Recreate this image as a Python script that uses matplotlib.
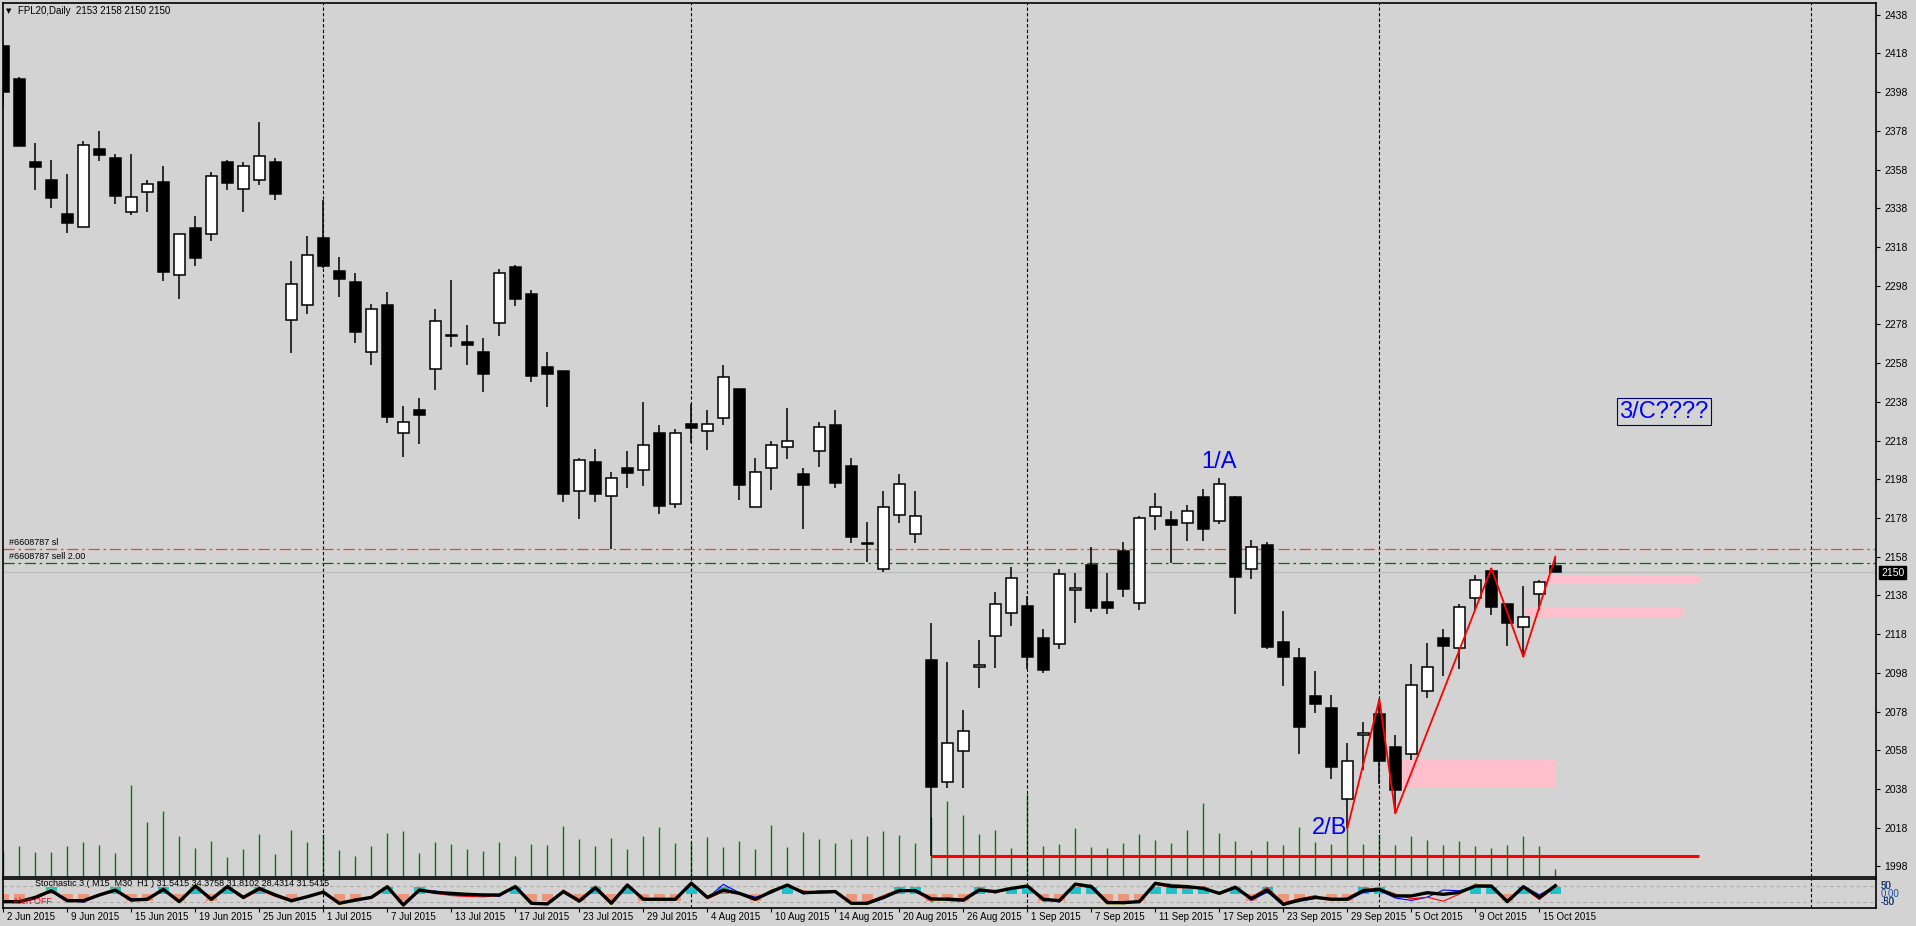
import matplotlib
matplotlib.use("Agg")
import matplotlib.pyplot as plt
from matplotlib.patches import Rectangle

W, H = 1916, 926
BG = '#D3D3D3'

# daily bars, 2 Jun 2015 .. 16 Oct 2015
opens = [2421.8, 2404.8, 2361.9, 2352.6, 2335.0, 2328.5, 2368.6, 2364.0, 2336.2, 2346.6,
         2351.6, 2303.7, 2327.6, 2324.6, 2361.7, 2348.0, 2352.6, 2361.9, 2280.4, 2288.2,
         2322.5, 2305.6, 2299.8, 2263.6, 2287.9, 2221.7, 2233.8, 2254.8, 2272.5, 2268.9,
         2263.7, 2278.6, 2307.7, 2293.7, 2256.0, 2253.9, 2191.8, 2206.9, 2189.5, 2203.8,
         2202.6, 2221.9, 2185.4, 2226.4, 2222.8, 2229.5, 2244.5, 2183.5, 2203.7, 2214.5,
         2200.6, 2212.5, 2225.9, 2204.7, 2164.6, 2151.5, 2179.4, 2169.9, 2104.6, 2041.4,
         2057.5, 2100.9, 2116.9, 2128.7, 2132.4, 2115.8, 2112.7, 2140.6, 2153.6, 2134.4,
         2160.8, 2134.2, 2179.2, 2176.9, 2175.6, 2188.7, 2176.6, 2189.0, 2151.5, 2163.9,
         2113.8, 2105.5, 2085.9, 2079.7, 2032.7, 2065.7, 2076.7, 2059.7, 2056.2, 2088.5,
         2115.8, 2110.7, 2136.5, 2150.6, 2133.4, 2121.5, 2138.6, 2153.0]
highs = [2422.9, 2405.8, 2371.7, 2362.9, 2355.7, 2372.6, 2377.9, 2366.0, 2366.0, 2352.6,
         2359.8, 2324.6, 2334.0, 2356.6, 2362.9, 2362.0, 2382.6, 2364.0, 2310.8, 2323.7,
         2342.3, 2312.7, 2304.4, 2288.4, 2294.7, 2235.8, 2240.0, 2286.0, 2300.9, 2277.7,
         2271.0, 2306.6, 2308.7, 2295.8, 2263.7, 2254.0, 2208.8, 2213.6, 2201.8, 2212.6,
         2237.9, 2226.0, 2224.0, 2236.9, 2233.8, 2257.0, 2244.5, 2209.0, 2217.8, 2234.8,
         2203.8, 2227.6, 2233.8, 2209.0, 2176.0, 2191.8, 2200.9, 2191.9, 2123.8, 2103.6,
         2078.8, 2114.9, 2139.6, 2152.7, 2137.5, 2120.5, 2151.6, 2149.7, 2162.9, 2149.4,
         2165.5, 2178.9, 2191.1, 2181.6, 2184.7, 2192.8, 2198.5, 2189.5, 2166.5, 2165.4,
         2129.8, 2110.7, 2099.1, 2086.4, 2061.6, 2072.5, 2084.3, 2065.9, 2102.6, 2113.3,
         2120.5, 2133.4, 2148.4, 2152.0, 2133.4, 2143.0, 2146.0, 2158.0]
lows = [2390.5, 2370.2, 2347.4, 2338.3, 2325.4, 2328.5, 2362.4, 2340.4, 2334.5, 2336.2,
        2300.6, 2291.3, 2308.3, 2321.2, 2347.4, 2336.2, 2350.2, 2342.4, 2263.4, 2283.4,
        2307.0, 2292.3, 2268.6, 2257.2, 2227.2, 2209.7, 2216.2, 2244.1, 2266.5, 2257.0,
        2243.2, 2272.2, 2287.7, 2248.4, 2235.5, 2186.4, 2177.6, 2186.4, 2161.8, 2193.6,
        2194.7, 2180.2, 2183.3, 2216.6, 2213.3, 2226.2, 2187.3, 2183.5, 2192.6, 2208.6,
        2172.5, 2204.5, 2193.6, 2165.2, 2155.4, 2150.2, 2175.6, 2164.9, 2003.4, 2038.7,
        2038.7, 2090.3, 2100.7, 2122.4, 2099.8, 2097.8, 2110.5, 2123.6, 2129.6, 2128.6,
        2137.3, 2130.6, 2171.6, 2154.6, 2166.1, 2166.3, 2174.7, 2128.6, 2146.6, 2110.5,
        2091.2, 2056.2, 2077.4, 2043.3, 2017.7, 2047.8, 2040.4, 2025.4, 2052.8, 2084.8,
        2096.4, 2099.8, 2130.3, 2127.7, 2111.7, 2106.3, 2130.5, 2150.0]
closes = [2398.2, 2370.2, 2359.5, 2343.5, 2330.5, 2370.5, 2365.5, 2344.5, 2343.8, 2350.5,
          2305.1, 2324.6, 2312.5, 2354.5, 2351.2, 2359.8, 2365.0, 2345.5, 2298.7, 2313.7,
          2308.3, 2301.6, 2274.2, 2285.8, 2230.3, 2227.4, 2231.4, 2279.6, 2272.0, 2267.5,
          2252.5, 2304.4, 2291.3, 2251.5, 2252.5, 2190.5, 2207.8, 2190.5, 2198.5, 2201.4,
          2215.6, 2184.3, 2221.7, 2224.6, 2226.4, 2250.7, 2194.9, 2201.6, 2215.6, 2217.6,
          2195.2, 2224.9, 2196.2, 2168.3, 2164.4, 2183.5, 2195.4, 2178.9, 2039.2, 2061.6,
          2067.8, 2101.9, 2133.4, 2146.8, 2106.3, 2099.6, 2149.2, 2141.7, 2131.6, 2131.6,
          2141.5, 2177.8, 2183.5, 2174.5, 2181.4, 2172.5, 2195.4, 2147.7, 2162.9, 2111.5,
          2106.3, 2070.2, 2081.7, 2049.5, 2052.6, 2066.8, 2052.6, 2037.6, 2091.6, 2100.9,
          2111.7, 2131.9, 2145.8, 2131.9, 2123.6, 2126.7, 2144.8, 2150.0]
volumes = [26, 31, 25, 25, 31, 35, 32, 24, 92, 55, 66, 41, 29, 36, 20, 28, 43, 23, 47, 35,
           43, 27, 21, 31, 44, 46, 24, 35, 33, 28, 26, 35, 21, 33, 32, 51, 38, 31, 39, 28,
           41, 50, 34, 35, 40, 30, 36, 28, 52, 30, 45, 38, 34, 38, 41, 46, 42, 34, 60, 76,
           62, 43, 47, 29, 83, 31, 33, 49, 30, 29, 34, 43, 37, 34, 47, 74, 44, 36, 27, 36,
           32, 50, 35, 33, 49, 33, 43, 32, 41, 37, 32, 36, 31, 29, 32, 41, 31, 8]

date_labels = ['2 Jun 2015', '9 Jun 2015', '15 Jun 2015', '19 Jun 2015', '25 Jun 2015',
               '1 Jul 2015', '7 Jul 2015', '13 Jul 2015', '17 Jul 2015', '23 Jul 2015',
               '29 Jul 2015', '4 Aug 2015', '10 Aug 2015', '14 Aug 2015', '20 Aug 2015',
               '26 Aug 2015', '1 Sep 2015', '7 Sep 2015', '11 Sep 2015', '17 Sep 2015',
               '23 Sep 2015', '29 Sep 2015', '5 Oct 2015', '9 Oct 2015', '15 Oct 2015']
date_bars = list(range(0, 97, 4))
separator_bars = [20, 43, 64, 86, 113]

price_ticks = list(range(1998, 2439, 20))
sl_price, entry_price, bid_price = 2161.8, 2154.6, 2150

support_price = 2003.4
support_bars = [58, 106]
zigzag_bars = [84, 86, 87, 93, 95, 97]
zigzag_prices = [2017.7, 2084.3, 2025.4, 2152.0, 2106.3, 2158.0]
# pink zones: (bar from, bar to, price low, price high)
zones = [(87.4, 97.0, 2038.7, 2053.5),
         (96.2, 106.0, 2143.7, 2148.8),
         (95.1, 105.0, 2127.0, 2132.2)]

# stochastic panel
stoch_black = [-48, -48, -21, 21, -42, -42, -6, 25, -38, -33, 29, -48, 50, -33, 46, -21, 35, -6, -42, -17,
               12, -58, -38, -21, 46, -69, 25, 10, 4, -2, -6, -6, 46, -58, -62, 15, -44, 40, -58, 56,
               -33, -33, -33, 67, -21, 25, 4, -33, 15, 56, 8, 12, 15, -58, -58, -21, 21, 21, -31, -33,
               -38, 25, 15, 35, 50, -33, -42, 62, 46, -54, -54, -48, 67, 50, 46, 35, 4, 42, -29, 25,
               -65, -38, -21, -33, -33, 21, 29, -12, -12, 8, -2, 10, 50, 50, -48, 46, -21, 52]
stoch_yellow = [-50, -46, -18, 28, -44, -44, -4, 30, -40, -35, 34, -50, 55, -36, 50, -18, 38, -4, -44, -15,
                14, -62, -40, -18, 52, -72, 28, 12, 6, 0, -4, -4, 50, -62, -66, 18, -46, 44, -62, 60,
                -36, -36, -36, 70, -18, 28, 6, -36, 18, 60, 10, 14, 18, -62, -62, -18, 24, 24, -34, -36,
                -40, 28, 18, 38, 54, -36, -44, 66, 50, -58, -58, -52, 70, 54, 50, 38, 6, 46, -32, 28,
                -68, -40, -18, -36, -36, 24, 32, -10, -10, 10, 0, 12, 54, 54, -52, 50, -18, 56]
stoch_red = [-40, -55, -30, 15, -35, -50, -10, 20, -45, -25, 20, -40, 45, -40, 40, -30, 25, -15, -48, -10,
             5, -65, -30, -28, 38, -60, 30, 5, -10, -15, -18, -10, 55, -50, -70, 25, -35, 50, -50, 48,
             -25, -40, -28, 60, -30, 15, 0, -40, 25, 50, 20, 5, 10, -65, -50, -10, 30, 15, -45, -25,
             -30, 35, 5, 40, 45, -45, -35, 55, 38, -60, -48, -55, 60, 40, 38, 45, 0, 35, -20, 40,
             -55, -30, -10, -40, -25, 30, 35, 0, -30, -20, -45, 0, 62, 45, -40, 40, -35, 45]
stoch_blue = [-52, -52, -30, 18, -40, -52, -10, 20, -30, -38, 40, -52, 55, -28, 50, -25, 30, 0, -48, -20,
              15, -60, -45, -15, 52, -66, 20, 20, -8, -12, 0, -15, 48, -62, -55, 10, -50, 30, -62, 62,
              -40, -28, -40, 75, -25, 60, 8, -20, 5, 60, 0, 20, 22, -60, -62, -30, 18, 28, -28, -40,
              -45, 22, 20, 30, 52, -28, -50, 66, 55, -45, -62, -40, 68, 60, 50, 32, 10, 50, -40, 12,
              -70, -45, -28, -28, -40, 10, 22, -25, -40, -20, 25, 20, 48, 42, -52, 52, -5, 50]
stoch_hist = [-45, -45, 0, 45, -45, -45, 0, 45, -45, -45, 45, -45, 45, -45, 45, 0, 45, 0, -45, 0,
              0, -45, -45, 0, 45, -45, 45, 0, 0, 0, 0, 0, 45, -45, -45, 0, -45, 45, -45, 45,
              -45, -45, -45, 45, 0, 45, 0, -45, 0, 45, 0, 0, 0, -45, -45, 0, 45, 45, -45, -45,
              -45, 45, 0, 45, 45, -45, -45, 45, 45, -45, -45, -45, 45, 45, 45, 45, 0, 45, -45, 45,
              -45, -45, 0, -45, -45, 45, 45, 0, 0, 0, 0, 0, 45, 45, -45, 45, 0, 45]

plt.rcParams['font.family'] = ['Liberation Sans', 'DejaVu Sans']

fig = plt.figure(figsize=(W / 100, H / 100), dpi=100, facecolor=BG)


def rect(x0, y0, x1, y1):
    return [x0 / W, 1 - y1 / H, (x1 - x0) / W, (y1 - y0) / H]


XL = (-0.04, 117.04)
bars = list(range(len(opens)))

# volume layer (own scale, under the candles)
vax = fig.add_axes(rect(2.7, 2.7, 1876, 877.3))
vax.set_xlim(*XL)
vax.set_ylim(0, 874.6)
vax.axis('off')
vax.vlines(bars, 0, volumes, color='#008000', lw=1.0)

ax = fig.add_axes(rect(2.7, 2.7, 1876, 877.3))
ax.patch.set_alpha(0)
ax.set_xlim(*XL)
ax.set_ylim(1992.4, 2444.2)
for s in ax.spines.values():
    s.set_linewidth(1.2)
ax.set_xticks([])
ax.yaxis.tick_right()
ax.set_yticks(price_ticks)
ax.tick_params(axis='y', length=3, width=0.8, pad=3, labelsize=7.5, colors='black')

for b in separator_bars:
    ax.axvline(b, color='black', lw=0.8, ls=(0, (3, 2)), zorder=1)

for x0, x1, p0, p1 in zones:
    ax.add_patch(Rectangle((x0, p0), x1 - x0, p1 - p0, facecolor='#FFC0CB', edgecolor='none', zorder=1.5))

ax.axhline(bid_price, color='#BEBEBE', lw=1.0, zorder=1.2)
ax.axhline(sl_price, color='#FF4500', lw=0.9, ls=(0, (9, 3, 2, 3)), zorder=1.3)
ax.axhline(entry_price, color='#007000', lw=0.9, ls=(0, (9, 3, 2, 3)), zorder=1.3)
ax.text(0.35, sl_price + 1.2, '#6608787 sl', fontsize=6.5, va='bottom', ha='left')
ax.text(0.35, entry_price + 1.2, '#6608787 sell 2.00', fontsize=6.5, va='bottom', ha='left')

# candles
ax.vlines(bars, lows, highs, color='black', lw=1.1, zorder=2)
for i in bars:
    o, c = opens[i], closes[i]
    up = c >= o
    ax.add_patch(Rectangle((i - 0.33, min(o, c)), 0.66, max(abs(c - o), 0.6),
                           facecolor='white' if up else 'black', edgecolor='black',
                           lw=1.1, zorder=3))

ax.hlines(support_price, support_bars[0], support_bars[1], color='#FF0000', lw=2.2, zorder=4)
ax.plot(zigzag_bars, zigzag_prices, color='#FF0000', lw=1.3, zorder=4)

ax.text(76.0, 2207, '1/A', color='#0000FF', fontsize=17, ha='center', va='center', zorder=5)
ax.text(82.9, 2018, '2/B', color='#0000FF', fontsize=17, ha='center', va='center', zorder=5)
ax.text(103.8, 2233, '3/C????', color='#0000FF', fontsize=17, ha='center', va='center', zorder=5,
        bbox=dict(boxstyle='square,pad=0.1', facecolor='none', edgecolor='#000080', lw=0.8))

# bid price box on the axis
fig.text(1881 / W, 1 - 572.5 / H, '2150', fontsize=7.5, color='white', ha='left', va='center',
         bbox=dict(boxstyle='square,pad=0.15', facecolor='black', edgecolor='black'))

# header
fig.text(8.7 / W, 1 - 11 / H, '\u25BC', fontsize=5, ha='center', va='center', family='DejaVu Sans')
fig.text(18.3 / W, 1 - 11 / H, 'FPL20,Daily  2153 2158 2150 2150', fontsize=7, ha='left', va='center')

# stochastic panel
sax = fig.add_axes(rect(2.7, 879.3, 1876, 908))
sax.set_facecolor(BG)
sax.set_xlim(*XL)
sax.set_ylim(-87.5, 91.9)
for s in sax.spines.values():
    s.set_linewidth(1.2)
sax.set_yticks([])
for b in separator_bars:
    sax.axvline(b, color='black', lw=0.8, ls=(0, (3, 2)), zorder=1)
for lv in (50, -50):
    sax.axhline(lv, color='#A8A8A8', lw=0.8, ls=(0, (3, 3)), zorder=1)
hist_colors = ['#20C0C8' if v > 0 else '#E9967A' for v in stoch_hist]
sax.bar(bars, stoch_hist, width=0.7, color=hist_colors, zorder=2)
sax.plot(bars, stoch_blue, color='#0000FF', lw=0.8, zorder=3)
sax.plot(bars, stoch_red, color='#FF0000', lw=0.8, zorder=3)
sax.plot(bars, stoch_yellow, color='#FFFF00', lw=1.6, zorder=3)
sax.plot(bars, stoch_black, color='black', lw=2.4, zorder=4)
sax.text(2, 65, 'Stochastic 3 ( M15  M30  H1 ) 31.5415 34.3758 31.8102 28.4314 31.5415',
         fontsize=6.5, va='center', ha='left', zorder=5, transform=sax.transData)
sax.text(0.6, -45, 'Alert OFF', fontsize=6.5, color='#FF0000', va='center', ha='left', zorder=5)

sax.set_xticks(date_bars)
sax.set_xticklabels([])
sax.tick_params(axis='x', length=3, width=0.8, direction='out')
for b, lab in zip(date_bars, date_labels):
    sax.annotate(lab, xy=(b, 0), xycoords=('data', 'axes fraction'), xytext=(4, -9),
                 textcoords='offset pixels', fontsize=7, ha='left', va='center', annotation_clip=False)

for lab, v, col in (('50', 50, 'black'), ('30', 50, '#1E50A0'), ('0.00', 0, '#1E50A0'),
                    ('-50', -50, 'black'), ('-30', -50, '#1E50A0')):
    sax.annotate(lab, xy=(1, v), xycoords=('axes fraction', 'data'), xytext=(5, 0),
                 textcoords='offset pixels', fontsize=7, color=col, ha='left', va='center',
                 annotation_clip=False)

fig.savefig('out.png', dpi=100, facecolor=BG)
